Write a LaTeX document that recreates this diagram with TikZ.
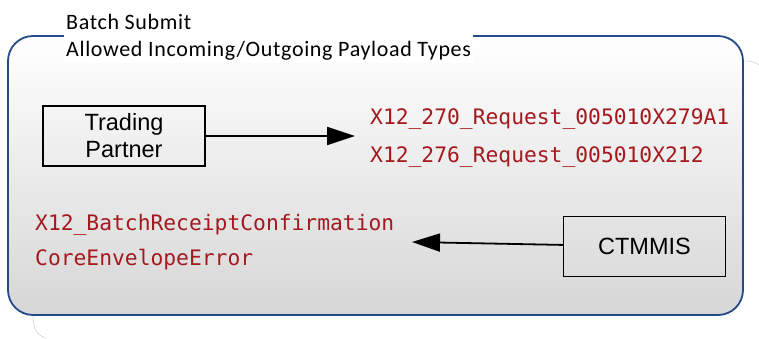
\documentclass[tikz,border=0pt]{standalone}
\usepackage{fontspec}
\setmainfont{Carlito}[LetterSpace=3]
\newfontfamily\boxfont{Liberation Sans}
\newfontfamily\payloadfont{DejaVu Sans Mono}
\usetikzlibrary{arrows.meta}
\definecolor{frameblue}{RGB}{35,75,135}
\definecolor{payloadred}{RGB}{165,25,30}

\begin{document}
\begin{tikzpicture}[x=1pt,y=-1pt,
  box/.style={draw, rectangle, line width=1.5pt, minimum width=162pt, minimum height=60pt,
    align=center, font=\boxfont\fontsize{23.5}{27}\selectfont},
  payload/.style={anchor=base west, inner sep=0pt, text=payloadred,
    font=\payloadfont\fontsize{21.3}{25}\selectfont},
  flow/.style={draw, line width=1.8pt, -{Triangle[length=28pt,width=18pt]}}]
\useasboundingbox (0,0) rectangle (759,339);
\begin{scope}
\shade[top color=white, bottom color=gray!32, rounded corners=25pt] (8,36) rectangle (743,315);
\draw[frameblue, line width=1.8pt, rounded corners=25pt] (8,36) rectangle (743,315);
\draw[gray!35, line width=0.6pt] (33,316) .. controls (33,330) and (38,336) .. (46,338);
\draw[gray!35, line width=0.6pt] (745,61) .. controls (750,61) and (755,62) .. (759,65);
\node[fill=white, anchor=north west, align=left, inner sep=2pt,
  font=\fontsize{22}{27.5}\selectfont] (title) at (64,12)
  {Batch Submit\\Allowed Incoming/Outgoing Payload Types};
\node[box] (partner) at (124,136) {Trading\\Partner};
\node[box] (ctmmis) at (644.5,246.5) {CTMMIS};
\node[payload] (req270) at (370,125) {X12\_270\_Request\_005010X279A1};
\node[payload] (req276) at (370,163) {X12\_276\_Request\_005010X212};
\node[payload] (receipt) at (35,230) {X12\_BatchReceiptConfirmation};
\node[payload] (envelope) at (35,265) {CoreEnvelopeError};
\coordinate (partnerTip) at (355,136);
\coordinate (ctmmisTip) at (412,242);
\path[flow] (partner) -- (partnerTip);
\path[flow] (ctmmis) -- (ctmmisTip);
\end{scope}
\end{tikzpicture}
\end{document}
